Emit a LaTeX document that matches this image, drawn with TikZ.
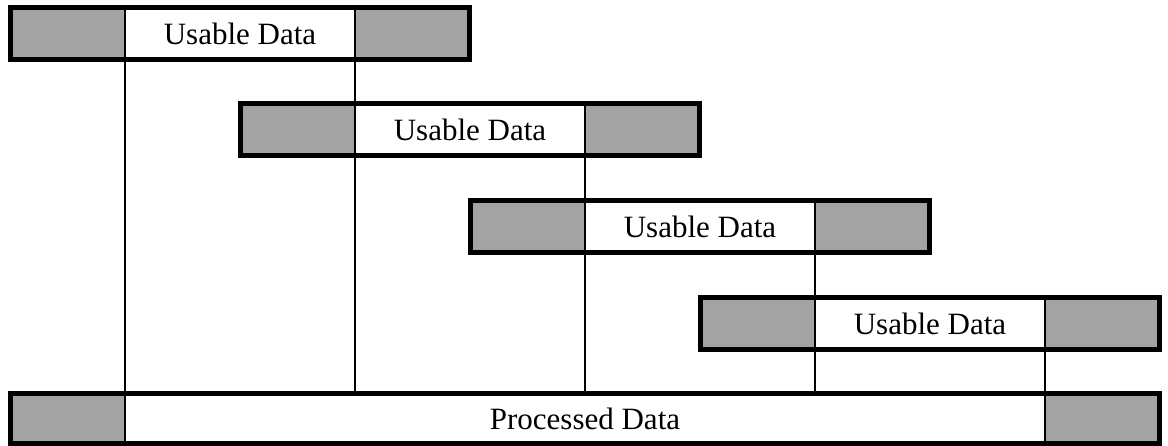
\documentclass[tikz,border=0pt]{standalone}
\usepackage{fontspec}
\setmainfont{Liberation Serif}
\usepackage{tikz}
\usetikzlibrary{positioning}
\tikzset{
  seg/.style={draw, line width=2.5pt, minimum height=52pt, inner sep=0pt, outer sep=0pt},
  padding/.style={seg, fill=black!36, minimum width=114.5pt},
  usable/.style={seg, fill=white, minimum width=230pt, font=\fontsize{31}{36}\selectfont},
  frame/.style={line width=5pt},
  tie/.style={line width=2.5pt}
}

\begin{document}
\begin{tikzpicture}[x=1pt, y=-1pt, node distance=0pt]
  \useasboundingbox (0,0) rectangle (1168,446);

  % Block 1
  \node[padding, anchor=north west] (l1) at (10.5,7.5) {};
  \node[usable, right=of l1] (m1) {Usable Data};
  \node[padding, right=of m1] (r1) {};

  % Block 2
  \node[padding, anchor=north west] (l2) at (240.5,104) {};
  \node[usable, right=of l2] (m2) {Usable Data};
  \node[padding, right=of m2] (r2) {};

  % Block 3
  \node[padding, anchor=north west] (l3) at (470.5,200.5) {};
  \node[usable, right=of l3] (m3) {Usable Data};
  \node[padding, right=of m3] (r3) {};

  % Block 4
  \node[padding, anchor=north west] (l4) at (700.5,297.5) {};
  \node[usable, right=of l4] (m4) {Usable Data};
  \node[padding, right=of m4] (r4) {};

  % Processed output
  \node[padding, minimum height=50pt, anchor=north west] (lp) at (10.5,393.5) {};
  \node[usable, minimum height=50pt, minimum width=920pt, right=of lp] (pd) {Processed Data};
  \node[padding, minimum height=50pt, right=of pd] (rp) {};

  % Boundaries
  \draw[tie] (m1.south west) -- (m1.south west |- pd.north);
  \draw[tie] (m1.south east) -- (m2.north west);
  \draw[tie] (m2.south west) -- (m2.south west |- pd.north);
  \draw[tie] (m2.south east) -- (m3.north west);
  \draw[tie] (m3.south west) -- (m3.south west |- pd.north);
  \draw[tie] (m3.south east) -- (m4.north west);
  \draw[tie] (m4.south west) -- (m4.south west |- pd.north);
  \draw[tie] (m4.south east) -- (m4.south east |- pd.north);

  % Outlines
  \draw[frame] (l1.north west) rectangle (r1.south east);
  \draw[frame] (l2.north west) rectangle (r2.south east);
  \draw[frame] (l3.north west) rectangle (r3.south east);
  \draw[frame] (l4.north west) rectangle (r4.south east);
  \draw[frame] (lp.north west) rectangle (rp.south east);
\end{tikzpicture}
\end{document}
